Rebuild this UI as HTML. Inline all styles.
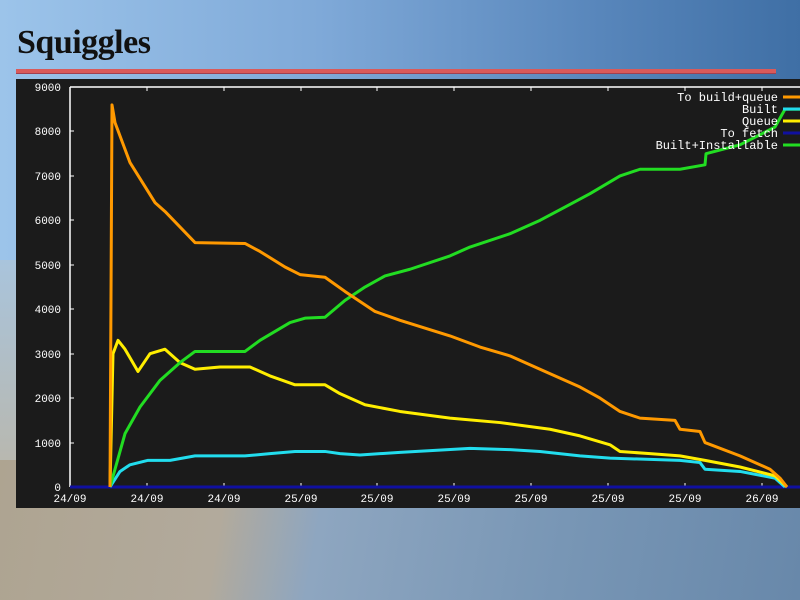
<!DOCTYPE html>
<html><head><meta charset="utf-8"><style>
body{margin:0;width:800px;height:600px;overflow:hidden;position:relative;font-family:"Liberation Sans",sans-serif}
#sky{position:absolute;left:0;top:0;width:800px;height:600px;background:linear-gradient(90deg,#9cc4ea 0%,#7fa9d8 40%,#5886bb 75%,#3f6fa5 100%)}
#haze{position:absolute;left:0;top:260px;width:16px;height:200px;background:linear-gradient(180deg,#a9c4dc,#b8b8b0)}
#sea{position:absolute;left:0;top:460px;width:800px;height:140px;background:linear-gradient(100deg,#aea491 0%,#b2aa9c 28%,#8ea6c0 40%,#7896b5 70%,#6888aa 100%)}
h1{position:absolute;left:17px;top:24px;margin:0;font-family:"Liberation Serif",serif;font-weight:bold;font-size:34px;color:#111;letter-spacing:-0.5px}
#rule{position:absolute;left:16px;top:69px;width:760px;height:4px;background:#d95a5a;border-bottom:1px solid #a04050}
</style></head><body>
<div id="sky"></div><div id="haze"></div><div id="sea"></div>
<h1>Squiggles</h1><div id="rule"></div>
<svg style="position:absolute;left:0;top:0" width="800" height="600" font-family="Liberation Mono,monospace" font-size="11">
<rect x="16" y="79" width="784" height="429" fill="#1b1b1b"/>
<g stroke="#fff" stroke-width="1.5">
<line x1="70" y1="87" x2="70" y2="487"/><line x1="70" y1="87" x2="800" y2="87"/><line x1="70" y1="487.5" x2="800" y2="487.5"/>
</g>
<g fill="#fff" text-anchor="end">
<text x="61" y="91">9000</text><text x="61" y="135">8000</text><text x="61" y="180">7000</text><text x="61" y="224">6000</text><text x="61" y="269">5000</text><text x="61" y="313">4000</text><text x="61" y="358">3000</text><text x="61" y="402">2000</text><text x="61" y="447">1000</text><text x="61" y="491">0</text>
</g>
<g fill="#fff" text-anchor="middle">
<text x="70" y="502">24/09</text><text x="147" y="502">24/09</text><text x="224" y="502">24/09</text><text x="301" y="502">25/09</text><text x="377" y="502">25/09</text><text x="454" y="502">25/09</text><text x="531" y="502">25/09</text><text x="608" y="502">25/09</text><text x="685" y="502">25/09</text><text x="762" y="502">26/09</text>
</g>
<g stroke="#fff" stroke-width="1">
<line x1="147" y1="87" x2="147" y2="91"/><line x1="224" y1="87" x2="224" y2="91"/><line x1="301" y1="87" x2="301" y2="91"/><line x1="377" y1="87" x2="377" y2="91"/><line x1="454" y1="87" x2="454" y2="91"/><line x1="531" y1="87" x2="531" y2="91"/><line x1="608" y1="87" x2="608" y2="91"/><line x1="685" y1="87" x2="685" y2="91"/><line x1="762" y1="87" x2="762" y2="91"/>
<line x1="147" y1="487" x2="147" y2="483"/><line x1="224" y1="487" x2="224" y2="483"/><line x1="301" y1="487" x2="301" y2="483"/><line x1="377" y1="487" x2="377" y2="483"/><line x1="454" y1="487" x2="454" y2="483"/><line x1="531" y1="487" x2="531" y2="483"/><line x1="608" y1="487" x2="608" y2="483"/><line x1="685" y1="487" x2="685" y2="483"/><line x1="762" y1="487" x2="762" y2="483"/>
<line x1="70" y1="131" x2="74" y2="131"/><line x1="70" y1="176" x2="74" y2="176"/><line x1="70" y1="220" x2="74" y2="220"/><line x1="70" y1="265" x2="74" y2="265"/><line x1="70" y1="309" x2="74" y2="309"/><line x1="70" y1="354" x2="74" y2="354"/><line x1="70" y1="398" x2="74" y2="398"/><line x1="70" y1="443" x2="74" y2="443"/>
</g>
<g transform="translate(0,487) scale(1,-0.04444)" fill="none" stroke-width="3" stroke-linejoin="round">
<polyline vector-effect="non-scaling-stroke" stroke="#1010a0" points="70,0 800,0"/>
<polyline vector-effect="non-scaling-stroke" stroke="#22ddee" points="110,0 120,350 130,500 148,600 170,600 195,700 245,700 270,750 295,800 325,800 340,750 360,720 400,780 470,870 510,840 540,800 580,700 610,650 680,600 700,550 705,400 740,350 775,200 785,0"/>
<polyline vector-effect="non-scaling-stroke" stroke="#ffee00" points="110,0 113,3000 118,3300 125,3100 138,2600 150,3000 165,3100 180,2800 195,2650 220,2700 250,2700 270,2500 295,2300 325,2300 340,2100 365,1850 400,1700 450,1550 500,1450 550,1300 580,1150 610,950 620,800 650,750 680,700 705,600 740,450 775,250 787,0"/>
<polyline vector-effect="non-scaling-stroke" stroke="#22dd22" points="110,0 125,1200 140,1800 160,2400 180,2800 195,3050 245,3050 260,3300 290,3700 305,3800 325,3820 345,4200 365,4500 385,4750 410,4900 450,5200 470,5400 510,5700 540,6000 565,6300 590,6600 620,7000 640,7150 680,7150 705,7250 706,7500 740,7700 775,8100 785,8500 800,8500"/>
<polyline vector-effect="non-scaling-stroke" stroke="#ff9900" points="110,0 112,8600 115,8200 130,7300 155,6400 165,6200 195,5500 245,5480 260,5300 285,4950 300,4780 325,4720 345,4400 375,3950 400,3750 450,3400 480,3150 510,2950 540,2650 580,2250 600,2000 620,1700 640,1550 675,1500 680,1300 700,1250 705,1000 740,700 770,400 780,200 787,0"/>
</g>
<g fill="#fff" text-anchor="end" font-size="12">
<text x="778" y="101">To build+queue</text><text x="778" y="113">Built</text><text x="778" y="125">Queue</text><text x="778" y="137">To fetch</text><text x="778" y="149">Built+Installable</text>
</g>
<g stroke-width="3">
<line x1="783" y1="97" x2="800" y2="97" stroke="#ff9900"/><line x1="783" y1="109" x2="800" y2="109" stroke="#22ddee"/><line x1="783" y1="121" x2="800" y2="121" stroke="#ffee00"/><line x1="783" y1="133" x2="800" y2="133" stroke="#1010a0"/><line x1="783" y1="145" x2="800" y2="145" stroke="#22dd22"/>
</g>
</svg>
</body></html>
